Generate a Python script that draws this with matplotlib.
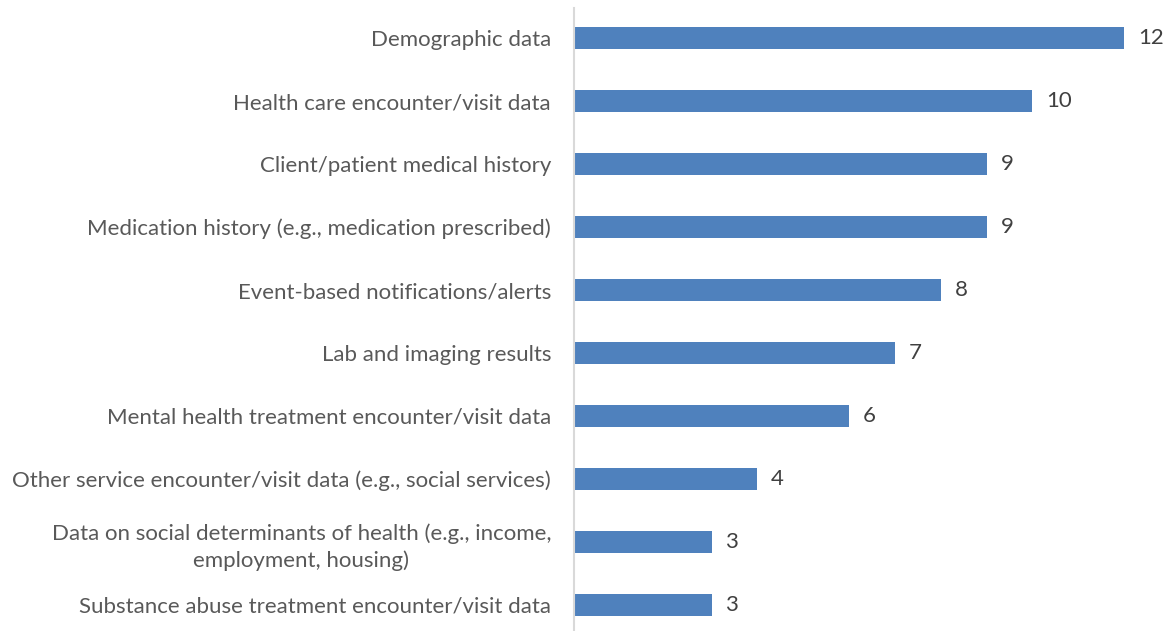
import matplotlib
matplotlib.use("Agg")
import matplotlib.pyplot as plt

categories = [
    "Demographic data",
    "Health care encounter/visit data",
    "Client/patient medical history",
    "Medication history (e.g., medication prescribed)",
    "Event-based notifications/alerts",
    "Lab and imaging results",
    "Mental health treatment encounter/visit data",
    "Other service encounter/visit data (e.g., social services)",
    "Data on social determinants of health (e.g., income,\nemployment, housing)",
    "Substance abuse treatment encounter/visit data",
]
values = [12, 10, 9, 9, 8, 7, 6, 4, 3, 3]

plt.rcParams['font.family'] = ['Lato', 'DejaVu Sans']
text_color = '#595959'

fig = plt.figure(figsize=(11.68, 6.31), dpi=100)
ax = fig.add_axes([574 / 1168, 1 / 631, 594 / 1168, 622 / 631])

y = list(range(len(categories)))
ax.barh(y, values, height=0.35, color='#4F81BD')
ax.set_ylim(9.4, -0.48)
ax.set_xlim(0, 12.96)

ax.set_yticks(y)
ax.set_yticklabels(categories, fontsize=16, color=text_color, linespacing=1.4,
                   multialignment='center')
ax.tick_params(axis='y', length=0, pad=16.5)
ax.set_xticks([])

for yi, v in zip(y, values):
    ax.annotate(str(v), (v, yi), xytext=(10, 0), textcoords='offset points',
                va='center', ha='left', fontsize=16, color='#404040')

for s in ['top', 'right', 'bottom']:
    ax.spines[s].set_visible(False)
ax.spines['left'].set_color('#D9D9D9')
ax.spines['left'].set_linewidth(1.5)

fig.savefig('out.png', dpi=100)
